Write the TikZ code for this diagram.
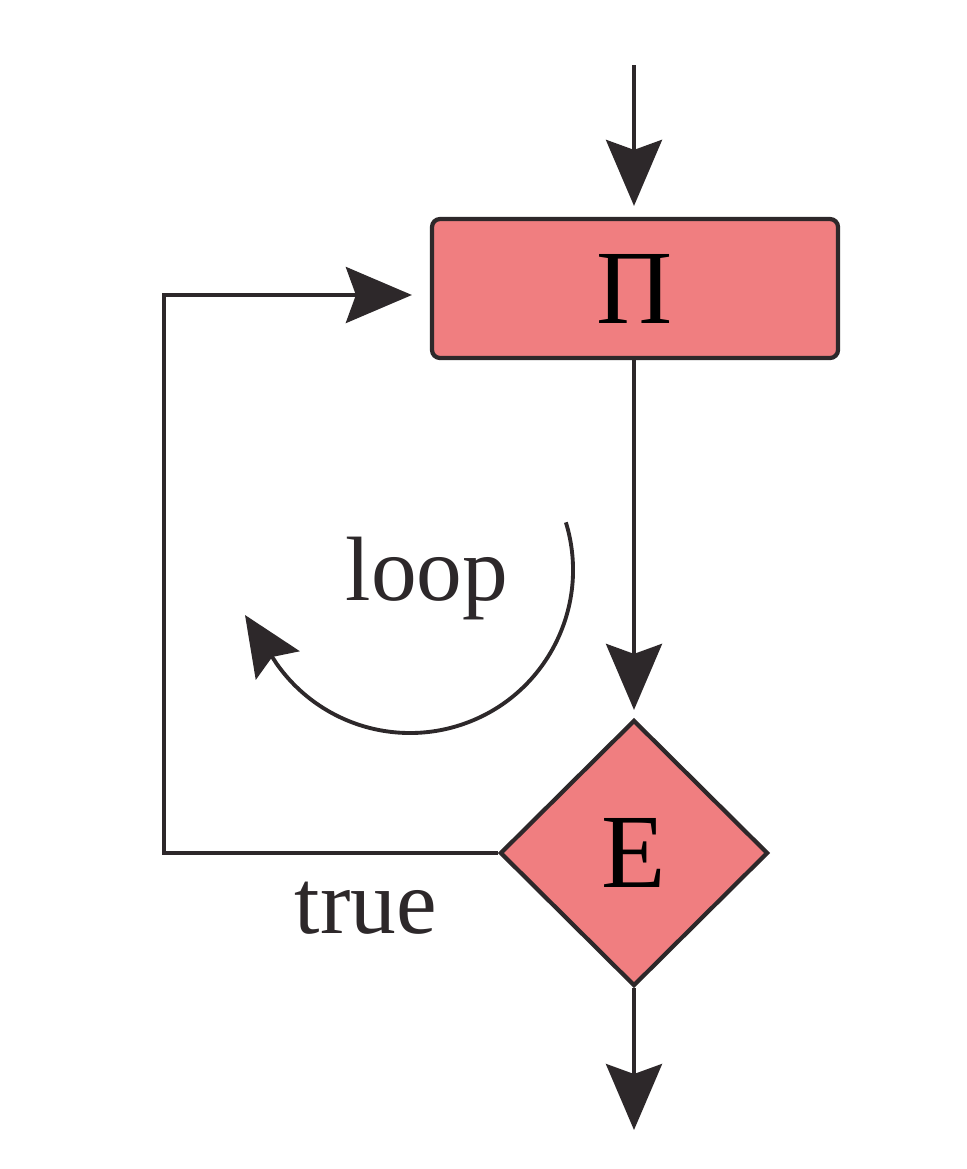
\documentclass[tikz,border=0pt]{standalone}
\usepackage{fontspec}
\setmainfont{Liberation Serif}
\usetikzlibrary{arrows.meta,shapes.geometric}
\definecolor{boxfill}{RGB}{240,126,128}
\definecolor{ink}{RGB}{45,40,42}
\tikzset{
  conn/.style={draw=ink, line width=1.1pt, -{Stealth[length=0.66cm,width=0.56cm,inset=0.1cm]}},
  procbox/.style={draw=ink, fill=boxfill, line width=1.2pt, rounded corners=0.08cm,
    minimum width=4.06cm, minimum height=1.39cm, inner sep=0pt, font=\fontsize{30}{32}\selectfont},
  decbox/.style={draw=ink, fill=boxfill, line width=1.2pt, diamond, inner sep=0pt,
    minimum width=2.68cm, minimum height=2.66cm, font=\fontsize{30}{32}\selectfont},
  lbl/.style={text=ink, inner sep=0pt, font=\fontsize{26}{28}\selectfont, anchor=base}
}
\begin{document}
\begin{tikzpicture}
\useasboundingbox[fill=white] (0,0) rectangle (9.67,-11.69);
\node[procbox] (p) at (6.35,-2.885) {П};
\node[decbox] (e) at (6.34,-8.53) {E};
\coordinate (in) at (6.34,-0.65);
\coordinate (out) at (6.34,-11.30);
\coordinate (lc) at (1.64,-8.53);
\draw[conn, shorten >=0.11cm] (in) -- (p.north -| in);
\draw[conn, shorten >=0.08cm] (p.south -| in) -- (e.north);
\draw[conn] (e.south) -- (out);
\draw[conn, shorten >=0.18cm] (e.west) -- (e.west -| lc) |- ([yshift=-0.065cm]p.west);
\node[lbl] (t) at (3.66,-9.33) {true};
\node[lbl] (l) at (4.27,-6.00) {loop};
\coordinate (as) at ({4.10+1.63*cos(17)},{-5.70+1.63*sin(17)});
\coordinate (at) at (2.45,-6.15);
\draw[draw=ink, line width=1.1pt, -{Stealth[length=0.6cm,width=0.52cm,inset=0.1cm]}]
  (as) arc[start angle=17, end angle=-145, radius=1.63] -- (at);
\end{tikzpicture}
\end{document}
